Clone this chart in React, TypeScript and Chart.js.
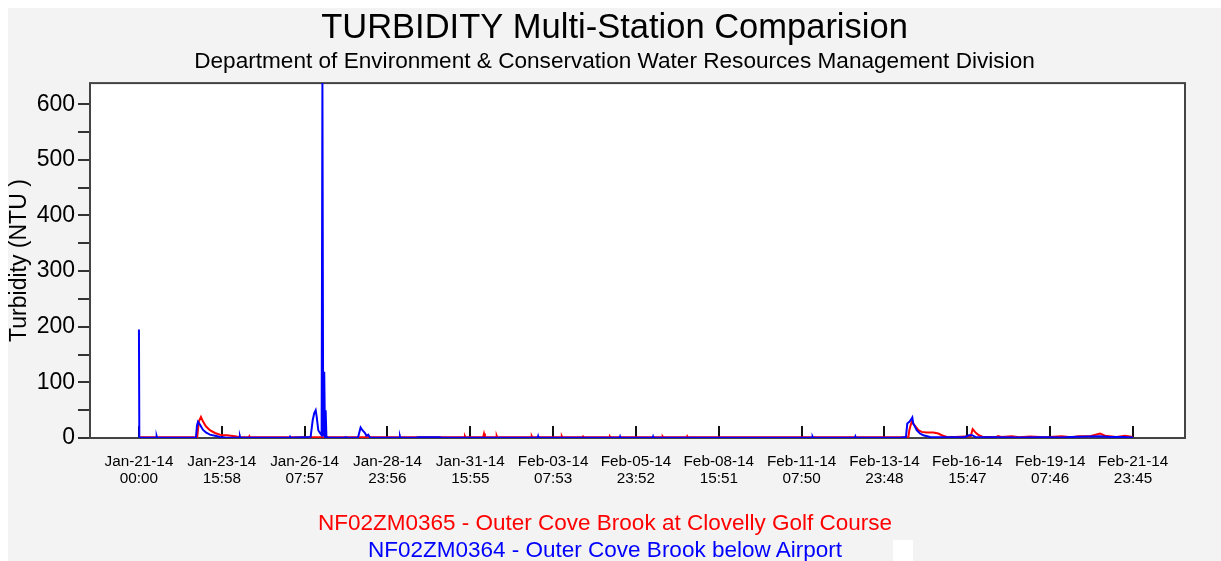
import React, { useEffect, useRef } from "react";
import { Chart, registerables } from "chart.js";

Chart.register(...registerables);

const FONT = "'Liberation Sans', Arial, sans-serif";

const chartTitle = "TURBIDITY Multi-Station Comparision";
const chartSubtitle =
  "Department of Environment & Conservation Water Resources Management Division";
const yAxisTitle = "Turbidity (NTU )";
const seriesNames = [
  "NF02ZM0365 - Outer Cove Brook at Clovelly Golf Course",
  "NF02ZM0364 - Outer Cove Brook below Airport",
];
const seriesColors = ["#ff0000", "#0000ff"];

// x values are hours since Jan-21-14 00:00
const xTickHours = [
  0, 63.97, 127.95, 191.93, 255.92, 319.88, 383.87, 447.85, 511.83, 575.8,
  639.78, 703.77, 767.75,
];
const xTickLabels = [
  ["Jan-21-14", "00:00"],
  ["Jan-23-14", "15:58"],
  ["Jan-26-14", "07:57"],
  ["Jan-28-14", "23:56"],
  ["Jan-31-14", "15:55"],
  ["Feb-03-14", "07:53"],
  ["Feb-05-14", "23:52"],
  ["Feb-08-14", "15:51"],
  ["Feb-11-14", "07:50"],
  ["Feb-13-14", "23:48"],
  ["Feb-16-14", "15:47"],
  ["Feb-19-14", "07:46"],
  ["Feb-21-14", "23:45"],
];
const yTickValues = [0, 50, 100, 150, 200, 250, 300, 350, 400, 450, 500, 550, 600];
const xMin = -37.8;
const xMax = 807.9;
const yMin = 0;
const yMax = 638;

// NF02ZM0365 (red)
const redHours = [
  0, 45.0, 46.3, 47.9, 49.4, 51.7, 54.8, 58.7, 62.6, 65.0, 68.0, 71.0, 74.1, 78.0,
  85, 85.3, 85.6, 251.5, 251.8, 252.1, 265.8, 266.5, 267.2, 276.0, 276.3, 276.6,
  303.1, 303.4, 303.7, 326.3, 326.6, 326.9, 342.7, 343.0, 343.3, 363.5, 363.8, 364.1,
  404.2, 404.5, 404.8, 423.1, 423.4, 423.7, 590, 594.3, 595.0, 595.9, 596.8, 598.0,
  599.4, 602.0, 604.5, 608.4, 613.5, 617.4, 620.0, 623.9, 630, 642.4, 643.9, 645.7,
  647.5, 649.6, 651.9, 662.5, 663.5, 666.3, 674.1, 680, 688.2, 700, 712.7, 720,
  725.3, 734.5, 742.3, 746.1, 755, 761.6, 767.75,
];
const redNTU = [
  1.5, 2, 30, 38, 30, 21, 14, 9, 6, 5, 5, 4, 3, 1.5,
  1.5, 3, 1.5, 1.5, 3, 1.5, 1.5, 8, 1.5, 1.5, 3.5, 1.5,
  1.5, 3, 1.5, 1.5, 3, 1.5, 1.5, 2.5, 1.5, 1.5, 2.5, 1.5,
  1.5, 2.5, 1.5, 1.5, 3, 1.5, 1.5, 2, 14, 22, 29, 26,
  22, 14, 11, 10, 10, 8, 5, 2, 2, 3, 16, 11,
  7, 4, 2, 2, 3.5, 2, 3, 1.5, 2.5, 1.5, 3, 1.5,
  3, 3, 8, 4, 2, 4, 2,
];

// NF02ZM0364 (blue)
const blueHours = [
  0, 0.3, 13.4, 13.7, 14.0, 44.0, 44.8, 45.6, 47.1, 49.4, 51.7, 54.8, 58.7, 62.6,
  66.4, 70.0, 77.7, 78.0, 78.3, 116.4, 116.7, 117.0, 132.6, 134.2, 135.4, 136.5,
  137.3, 138.5, 139.8, 141.1, 141.7, 142.3, 143.1, 143.7, 144.2, 144.8, 146.0,
  159.3, 159.6, 159.9, 169.2, 171.2, 172.6, 174.6, 175.7, 177.1, 178.4, 180.0,
  201.3, 201.6, 201.9, 214, 216, 232, 234, 308, 308.3, 308.6, 371.3, 371.6, 371.9,
  396.8, 397.1, 397.4, 455, 455.3, 455.6, 520, 520.3, 520.6, 553, 553.3, 553.6,
  560, 560.3, 560.6, 588, 592.4, 593.4, 595.0, 596.0, 597.3, 598.0, 599.4, 600.7,
  603.2, 605.8, 611.0, 620, 630, 638, 641.0, 643.5, 646, 660, 680, 700, 712, 720,
  742, 750, 760, 767.75,
];
const blueNTU = [
  195, 0.5, 0.5, 3, 0.5, 0.5, 22, 29, 24, 15, 10, 6, 4, 2,
  1, 0.5, 0.5, 3, 0.5, 0.5, 2, 0.5, 2, 32, 45, 50,
  38, 14, 9, 5, 640, 3, 119, 2, 50, 2, 0.5,
  0.5, 3, 0.5, 1, 19, 14, 9, 4, 6, 1, 0.5,
  0.5, 3, 0.5, 0.5, 1.5, 1.5, 0.5, 0.5, 3, 0.5, 0.5, 2.5, 0.5,
  0.5, 2.5, 0.5, 0.5, 2, 0.5, 0.5, 2, 0.5, 0.5, 2.5, 0.5,
  0.5, 2, 0.5, 0.5, 2, 26, 29, 32, 37, 26, 20, 14,
  8, 5, 2, 1.5, 1.5, 2, 5, 5, 2, 1.5, 1, 1.5, 1, 2,
  3, 2, 2, 1,
];

const plotFrame = {
  id: "plotFrame",
  beforeDraw(chart: any) {
    const { ctx, chartArea } = chart;
    const { left, top, right, bottom } = chartArea;
    ctx.save();
    ctx.fillStyle = "#ffffff";
    ctx.fillRect(left, top, right - left, bottom - top);
    ctx.restore();
  },
  beforeDatasetsDraw(chart: any) {
    const { ctx, chartArea } = chart;
    const { left, top, right, bottom } = chartArea;
    ctx.save();
    ctx.strokeStyle = "#444444";
    ctx.lineWidth = 2;
    ctx.strokeRect(left, top, right - left, bottom - top);
    ctx.restore();
  },
};

const W = 1213;
const H = 553;

export default function App() {
  const canvasRef = useRef<HTMLCanvasElement | null>(null);

  useEffect(() => {
    document.body.style.overflow = "hidden";
    const canvas = canvasRef.current;
    if (!canvas) return;
    const chart = new Chart(canvas, {
      type: "line",
      data: {
        datasets: [
          {
            label: seriesNames[1],
            data: blueHours.map((h, i) => ({ x: h, y: blueNTU[i] })),
            borderColor: seriesColors[1],
            borderWidth: 2,
            pointRadius: 0,
            tension: 0,
            fill: false,
            order: 0,
          },
          {
            label: seriesNames[0],
            data: redHours.map((h, i) => ({ x: h, y: redNTU[i] })),
            borderColor: seriesColors[0],
            borderWidth: 2,
            pointRadius: 0,
            tension: 0,
            fill: false,
            order: 1,
          },
        ],
      },
      options: {
        responsive: false,
        animation: false,
        events: [],
        layout: { padding: { top: 0, left: 0, right: 0, bottom: 63 } },
        plugins: {
          legend: { display: false },
          tooltip: { enabled: false },
          title: {
            display: true,
            text: chartTitle,
            color: "#000",
            font: { size: 34.5, family: FONT, weight: "normal", lineHeight: 1 },
            padding: { top: 3, bottom: 0 },
          },
          subtitle: {
            display: true,
            text: chartSubtitle,
            color: "#000",
            font: { size: 22.6, family: FONT, weight: "normal", lineHeight: 1 },
            padding: { top: 5, bottom: 10 },
          },
        },
        scales: {
          x: {
            type: "linear",
            min: xMin,
            max: xMax,
            afterBuildTicks: (s: any) => {
              s.ticks = xTickHours.map((v) => ({ value: v }));
            },
            afterFit: (s: any) => {
              s.height = 60;
            },
            border: { display: false },
            grid: {
              drawOnChartArea: false,
              tickLength: -12,
              color: "#111",
              lineWidth: 2,
            },
            ticks: {
              autoSkip: false,
              maxRotation: 0,
              minRotation: 0,
              padding: 28,
              color: "#000",
              font: { size: 15.3, family: FONT, lineHeight: 1.08 },
              callback: (_v: any, i: number) => xTickLabels[i],
            },
          },
          y: {
            min: yMin,
            max: yMax,
            afterBuildTicks: (s: any) => {
              s.ticks = yTickValues.map((v) => ({ value: v }));
            },
            afterFit: (s: any) => {
              s.width = 82;
            },
            border: { display: false },
            grid: {
              drawOnChartArea: false,
              tickLength: 12,
              color: "#333",
              lineWidth: 2,
            },
            ticks: {
              autoSkip: false,
              padding: 3,
              color: "#000",
              font: { size: 23, family: FONT },
              callback: (v: any) => (Number(v) % 100 === 0 ? String(v) : ""),
            },
            title: {
              display: true,
              text: yAxisTitle,
              color: "#000",
              font: { size: 23, family: FONT, lineHeight: 1 },
              padding: 0,
            },
          },
          yRightSpacer: {
            position: "right",
            display: true,
            min: 0,
            max: 1,
            afterFit: (s: any) => {
              s.width = 36;
            },
            border: { display: false },
            grid: { display: false, drawTicks: false },
            ticks: { display: false },
          },
        },
      } as any,
      plugins: [plotFrame],
    });
    return () => chart.destroy();
  }, []);

  const legendLine = (top: number, color: string, text: string) => (
    <div
      style={{
        position: "absolute",
        left: 0,
        width: 1194,
        top,
        textAlign: "center",
        color,
        fontFamily: FONT,
        fontSize: "22.5px",
        lineHeight: "26px",
        whiteSpace: "nowrap",
      }}
    >
      {text}
    </div>
  );

  return (
    <div
      style={{
        position: "absolute",
        left: 8,
        top: 8,
        width: W,
        height: H,
        background: "#f3f3f3",
        overflow: "hidden",
      }}
    >
      <canvas
        ref={canvasRef}
        width={W}
        height={H}
        style={{ position: "absolute", left: 0, top: 0, width: W, height: H }}
      />
      {legendLine(502, seriesColors[0], seriesNames[0])}
      {legendLine(529, seriesColors[1], seriesNames[1])}
      <div
        style={{
          position: "absolute",
          left: 885,
          top: 532,
          width: 20,
          height: 21,
          background: "#ffffff",
        }}
      />
    </div>
  );
}
